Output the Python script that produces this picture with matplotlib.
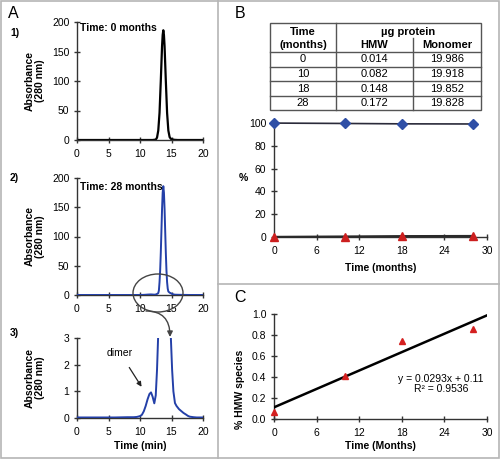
import numpy as np
import matplotlib
matplotlib.use("Agg")
import matplotlib.pyplot as plt
from matplotlib.patches import Ellipse, FancyArrowPatch, Rectangle

plt.rcParams['font.family'] = ['Liberation Sans', 'DejaVu Sans']

# ---------------- data ----------------
# Chromatogram, time 0 months
t0_time = [0, 4, 8, 10, 12, 12.5, 12.7, 12.9, 13.1, 13.3, 13.5, 13.6, 13.7, 13.8, 13.9,
           14.1, 14.3, 14.5, 14.7, 14.9, 15.1, 15.5, 16, 18, 20]
t0_abs = [0, 0, 0, 0, 0, 0.7, 4, 16, 46, 100, 159, 178, 186, 178, 159,
          100, 46, 16, 5, 2, 1, 0.3, 0, 0, 0]

# Chromatogram, time 28 months
t28_time = [0, 2, 4, 6, 8, 9, 9.5, 10, 10.3, 10.6, 10.9, 11.2, 11.5, 11.75, 12.0, 12.27,
            12.5, 12.7, 12.9, 13.0, 13.1, 13.2, 13.3, 13.4, 13.5, 13.6, 13.7, 13.8, 13.9,
            14.0, 14.1, 14.2, 14.3, 14.4, 14.5, 14.7, 14.9, 15.1, 15.3, 15.55, 15.8, 16.2,
            16.6, 16.9, 17.3, 17.6, 17.9, 18.5, 19, 20]
t28_abs = [0.02, 0.02, 0.02, 0.02, 0.03, 0.03, 0.04, 0.07, 0.12, 0.25, 0.45, 0.7, 0.9, 0.96,
           0.8, 0.55, 0.85, 1.8, 3.2, 8, 22, 42, 72, 109, 147, 175, 186, 175, 147,
           109, 72, 42, 22, 11, 6, 4.0, 3.0, 1.8, 1.0, 0.56, 0.45, 0.33, 0.25, 0.19,
           0.13, 0.08, 0.05, 0.03, 0.02, 0.02]

# Table / stability data
time_months = [0, 10, 18, 28]
hmw_ug = [0.014, 0.082, 0.148, 0.172]
monomer_ug = [19.986, 19.918, 19.852, 19.828]

hmw_pct = [h / (h + m) * 100 for h, m in zip(hmw_ug, monomer_ug)]
mono_pct = [m / (h + m) * 100 for h, m in zip(hmw_ug, monomer_ug)]

# ---------------- layout helpers ----------------
W, H = 500, 459
fig = plt.figure(figsize=(W / 100, H / 100), dpi=100)


def ax_at(l, t, r, b):
    return fig.add_axes([l / W, 1 - b / H, (r - l) / W, (b - t) / H])


TICK_FS = 7.5
LAB_FS = 7.5
AX_COL = '#333333'


def style(ax):
    for s in ['top', 'right']:
        ax.spines[s].set_visible(False)
    for s in ['left', 'bottom']:
        ax.spines[s].set_color(AX_COL)
        ax.spines[s].set_linewidth(1.0)
    ax.tick_params(direction='inout', length=5, width=1.0, color=AX_COL,
                   labelsize=TICK_FS)
    ax.tick_params(axis='x', pad=4)
    ax.tick_params(axis='y', pad=3)
    ax.patch.set_visible(False)


# ---------------- Panel A ----------------
ax1 = ax_at(77, 22, 203, 140)
ax1.plot(t0_time, t0_abs, color='black', lw=1.6)
ax1.set_xlim(0, 20)
ax1.set_ylim(0, 200)
ax1.set_xticks([0, 5, 10, 15, 20])
ax1.set_yticks([0, 50, 100, 150, 200])
style(ax1)
ax1.text(0.4, 190, 'Time: 0 months', fontsize=7.5, fontweight='bold', va='center')

ax2 = ax_at(77, 178, 203, 295)
ax2.plot(t28_time, t28_abs, color='#2440a8', lw=1.4, zorder=3)
ax2.set_xlim(0, 20)
ax2.set_ylim(0, 200)
ax2.set_xticks([0, 5, 10, 15, 20])
ax2.set_yticks([0, 50, 100, 150, 200])
style(ax2)
ax2.text(0.4, 185, 'Time: 28 months', fontsize=7.5, fontweight='bold', va='center')

ax3 = ax_at(77, 338, 203, 418)
ax3.plot(t28_time, t28_abs, color='#2440a8', lw=1.4, zorder=3)
ax3.set_xlim(0, 20)
ax3.set_ylim(0, 3)
ax3.set_xticks([0, 5, 10, 15, 20])
ax3.set_yticks([0, 1, 2, 3])
style(ax3)
ax3.set_xlabel('Time (min)', fontsize=LAB_FS, fontweight='bold', labelpad=3)
ax3.annotate('dimer', xy=(10.25, 1.17), xytext=(6.8, 2.45), fontsize=7.5,
             ha='center', va='center',
             arrowprops=dict(arrowstyle='-|>', color='#222222', lw=0.9,
                             mutation_scale=7, shrinkA=6, shrinkB=0))

# ---------------- Panel B plot ----------------
axB = ax_at(274, 123, 487, 237)
axB.plot(time_months, mono_pct, color='#2a2a3a', lw=1.2, marker='D', ms=5.5,
         mfc='#2f4fa6', mec='#2f4fa6', clip_on=False, zorder=4)
axB.plot(time_months, hmw_pct, color='#2a2a2a', lw=1.6, marker='^', ms=5.5,
         mfc='#cc1f1f', mec='#cc1f1f', clip_on=False, zorder=4)
axB.set_xlim(0, 30)
axB.set_ylim(0, 100)
axB.set_xticks([0, 6, 12, 18, 24, 30])
axB.set_yticks([0, 20, 40, 60, 80, 100])
style(axB)
axB.set_xlabel('Time (months)', fontsize=LAB_FS, fontweight='bold', labelpad=5)

# ---------------- Panel C plot ----------------
axC = ax_at(274, 314, 487, 419)
slope, intercept = np.polyfit(time_months, hmw_pct, 1)
xfit = np.array([0, 30])
axC.plot(xfit, slope * xfit + intercept, color='black', lw=1.8, zorder=3)
axC.plot(time_months, hmw_pct, ls='none', marker='^', ms=4.5, mfc='#d42020',
         mec='#d42020', clip_on=False, zorder=4)
axC.set_xlim(0, 30)
axC.set_ylim(0, 1.0)
axC.set_xticks([0, 6, 12, 18, 24, 30])
axC.set_yticks([0, 0.2, 0.4, 0.6, 0.8, 1.0])
axC.set_yticklabels(['0.0', '0.2', '0.4', '0.6', '0.8', '1.0'])
style(axC)
axC.set_xlabel('Time (Months)', fontsize=LAB_FS, fontweight='bold', labelpad=2)
axC.text(23.5, 0.335, 'y = 0.0293x + 0.11\nR² = 0.9536', fontsize=7.5,
         ha='center', va='center', linespacing=1.05)

# ---------------- overlay (frames, table, annotations) ----------------
ov = fig.add_axes([0, 0, 1, 1], zorder=10)
ov.set_xlim(0, W)
ov.set_ylim(H, 0)
ov.axis('off')
ov.patch.set_visible(False)

frame_col = '#b5b5b5'
ov.add_patch(Rectangle((0.5, 0.5), W - 1.5, H - 1.5, fill=False, ec=frame_col, lw=1.2))
ov.plot([218, 218], [0, H], color=frame_col, lw=1.2)
ov.plot([218, W], [284, 284], color=frame_col, lw=1.2)

# panel letters
ov.text(13, 13, 'A', fontsize=11.5, ha='center', va='center')
ov.text(240, 13, 'B', fontsize=11.5, ha='center', va='center')
ov.text(240, 297, 'C', fontsize=11.5, ha='center', va='center')
ov.text(15, 33, '1)', fontsize=7.5, fontweight='bold', ha='center', va='center')
ov.text(14, 178, '2)', fontsize=7.5, fontweight='bold', ha='center', va='center')
ov.text(14, 333, '3)', fontsize=7.5, fontweight='bold', ha='center', va='center')

# Absorbance y labels (same x for all three chromatograms)
for yc in [(22 + 140) / 2, (178 + 295) / 2, (338 + 418) / 2]:
    ov.text(35, yc, 'Absorbance\n(280 nm)', fontsize=LAB_FS, fontweight='bold',
            rotation=90, ha='center', va='center', linespacing=1.0)

# panel B "%" and panel C y label
ov.text(243, 178, '%', fontsize=7.5, fontweight='bold', ha='center', va='center')
ov.text(240, 389, '% HMW species', fontsize=LAB_FS, fontweight='bold', rotation=90,
        ha='center', va='center')

# ellipse + curved arrow
ov.add_patch(Ellipse((158, 293), 50, 38, fill=False, ec='#444444', lw=1.0))
ov.add_patch(FancyArrowPatch((146, 311), (170, 337), arrowstyle='-|>', mutation_scale=8,
                             connectionstyle='angle3,angleA=0,angleB=90',
                             color='#444444', lw=1.0, shrinkA=0, shrinkB=0))

# table
tcol = '#555555'
cols = [270, 336, 413, 481]
rows = [23, 52, 67, 81, 96, 110]
ov.add_patch(Rectangle((cols[0], rows[0]), cols[-1] - cols[0], rows[-1] - rows[0],
                       fill=False, ec=tcol, lw=1.0))
ov.plot([cols[1], cols[1]], [rows[0], rows[-1]], color=tcol, lw=1.0)
ov.plot([cols[2], cols[2]], [38, rows[-1]], color=tcol, lw=1.0)
for r in rows[1:-1]:
    ov.plot([cols[0], cols[-1]], [r, r], color=tcol, lw=1.0)

TFS = 8
ov.text((cols[0] + cols[1]) / 2, 32, 'Time', fontsize=TFS, fontweight='bold',
        ha='center', va='center')
ov.text((cols[0] + cols[1]) / 2, 45, '(months)', fontsize=TFS, fontweight='bold',
        ha='center', va='center')
ov.text((cols[1] + cols[3]) / 2, 32, 'µg protein', fontsize=TFS, fontweight='bold',
        ha='center', va='center')
ov.text((cols[1] + cols[2]) / 2, 45, 'HMW', fontsize=TFS, fontweight='bold',
        ha='center', va='center')
ov.text((cols[2] + cols[3]) / 2, 45, 'Monomer', fontsize=TFS, fontweight='bold',
        ha='center', va='center')
for i, (tm, h, m) in enumerate(zip(time_months, hmw_ug, monomer_ug)):
    yc = (rows[i + 1] + rows[i + 2]) / 2
    ov.text((cols[0] + cols[1]) / 2, yc, f'{tm}', fontsize=TFS, ha='center', va='center')
    ov.text((cols[1] + cols[2]) / 2, yc, f'{h:.3f}', fontsize=TFS, ha='center', va='center')
    ov.text((cols[2] + cols[3]) / 2, yc, f'{m:.3f}', fontsize=TFS, ha='center', va='center')

fig.savefig('out.png', dpi=100)
